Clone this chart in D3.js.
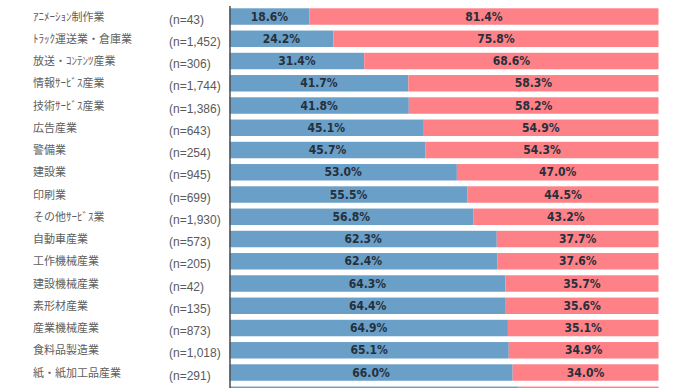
<!DOCTYPE html>
<html>
<head>
<meta charset="utf-8">
<script src="https://cdn.jsdelivr.net/npm/d3@7"></script>
<style>
  body { margin: 0; background: #fff; }
  .cat { font-family: "Noto Sans CJK JP", sans-serif; font-size: 11px; fill: #606060; }
  .n { font-family: "Liberation Sans", Arial, sans-serif; font-size: 12px; fill: #5a5a5a; }
  .pct { font-family: "Liberation Sans Narrow", "Arial Narrow", "DejaVu Sans Condensed", sans-serif; font-size: 12px; font-weight: bold; fill: #26303c; }
</style>
</head>
<body>
<div id="chart"></div>
<script>
// categories (the last row is cut off at the bottom of the picture)
const categories = ['ｱﾆﾒｰｼｮﾝ制作業', 'ﾄﾗｯｸ運送業・倉庫業', '放送・ｺﾝﾃﾝﾂ産業', '情報ｻｰﾋﾞｽ産業',
  '技術ｻｰﾋﾞｽ産業', '広告産業', '警備業', '建設業', '印刷業', 'その他ｻｰﾋﾞｽ業',
  '自動車産業', '工作機械産業', '建設機械産業', '素形材産業', '産業機械産業',
  '食料品製造業', '紙・紙加工品産業', ''];
const counts = ['43', '1,452', '306', '1,744', '1,386', '643', '254', '945', '699', '1,930',
  '573', '205', '42', '135', '873', '1,018', '291', ''];
const blueValues = [18.6, 24.2, 31.4, 41.7, 41.8, 45.1, 45.7, 53.0, 55.5, 56.8,
  62.3, 62.4, 64.3, 64.4, 64.9, 65.1, 66.0, 67.4];
const redValues = [81.4, 75.8, 68.6, 58.3, 58.2, 54.9, 54.3, 47.0, 44.5, 43.2,
  37.7, 37.6, 35.7, 35.6, 35.1, 34.9, 34.0, 32.6];

const width = 690, height = 388;
const colors = ['#6a9fc7', '#ff8188'];

const rows = categories.map((c, i) => ({ i: i, cat: c, n: counts[i], blue: blueValues[i], red: redValues[i] }));
// rows whose labels can be seen (the cut-off last row has none)
const labelled = rows.filter(d => d.cat);

const svg = d3.select('#chart')
  .append('svg')
  .attr('width', width)
  .attr('height', height);

// y scale: one band per industry
const yScale = d3.scaleBand()
  .domain(d3.range(rows.length))
  .range([5.4, 5.4 + rows.length * 22.25])
  .paddingInner(0.26)
  .paddingOuter(0.13);

// x scale: share in percent
const xScale = d3.scaleLinear()
  .domain([0, 100])
  .range([229.5, 658.5]);

const midY = d => yScale(d.i) + yScale.bandwidth() / 2;

// blue segment
svg.selectAll('rect.blue')
  .data(rows)
  .enter()
  .append('rect')
    .attr('class', 'blue')
    .attr('x', xScale(0))
    .attr('y', d => yScale(d.i))
    .attr('width', d => xScale(d.blue) - xScale(0))
    .attr('height', yScale.bandwidth())
    .attr('fill', colors[0]);

// red segment
svg.selectAll('rect.red')
  .data(rows)
  .enter()
  .append('rect')
    .attr('class', 'red')
    .attr('x', d => xScale(d.blue))
    .attr('y', d => yScale(d.i))
    .attr('width', d => xScale(d.blue + d.red) - xScale(d.blue))
    .attr('height', yScale.bandwidth())
    .attr('fill', colors[1]);

// percent labels in the middle of each segment
svg.selectAll('text.pblue')
  .data(labelled)
  .enter()
  .append('text')
    .attr('class', 'pct')
    .attr('text-anchor', 'middle')
    .attr('x', d => xScale(d.blue / 2))
    .attr('y', d => midY(d) + 4)
    .text(d => d.blue.toFixed(1) + '%');

svg.selectAll('text.pred')
  .data(labelled)
  .enter()
  .append('text')
    .attr('class', 'pct')
    .attr('text-anchor', 'middle')
    .attr('x', d => xScale(d.blue + d.red / 2))
    .attr('y', d => midY(d) + 4)
    .text(d => d.red.toFixed(1) + '%');

// industry names
svg.selectAll('text.cat')
  .data(labelled)
  .enter()
  .append('text')
    .attr('class', 'cat')
    .attr('x', 33)
    .attr('y', d => midY(d) + 4)
    .text(d => d.cat);

// sample sizes
svg.selectAll('text.n')
  .data(labelled)
  .enter()
  .append('text')
    .attr('class', 'n')
    .attr('x', 169)
    .attr('y', d => midY(d) + 7)
    .text(d => '(n=' + d.n + ')');

// vertical axis line
svg.append('g')
  .attr('transform', 'translate(' + xScale(0) + ',0)')
  .call(d3.axisLeft(yScale).tickSize(0).tickFormat(''))
  .call(g => g.select('.domain').attr('stroke', '#4a4f57').attr('stroke-width', 1.5));
</script>
</body>
</html>
